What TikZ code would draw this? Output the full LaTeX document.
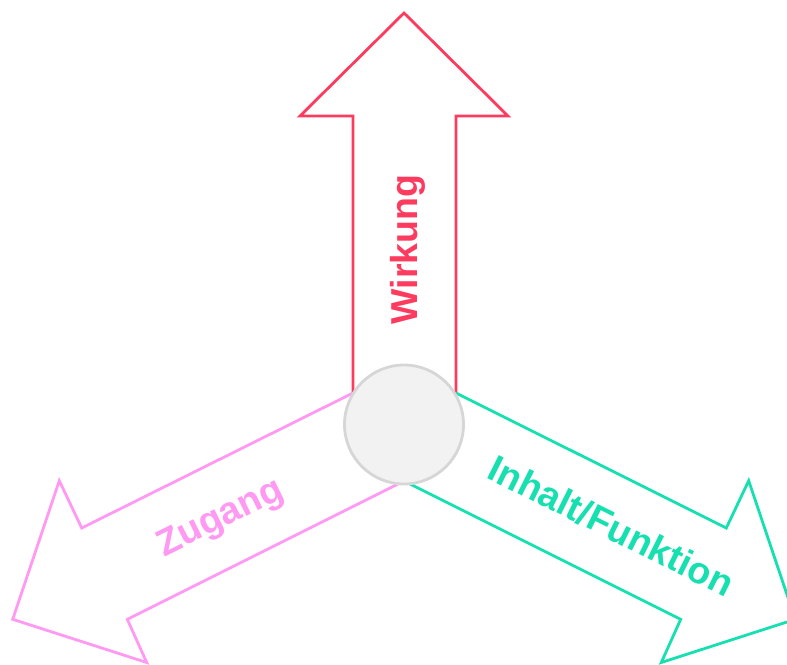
\documentclass[tikz,border=0pt]{standalone}
\usepackage{fontspec}
\setmainfont{Liberation Sans}
\definecolor{wred}{HTML}{FD3B5F}
\definecolor{zpink}{HTML}{FF99F2}
\definecolor{fgreen}{HTML}{17E0B0}
\definecolor{hubfill}{HTML}{F2F2F2}
\definecolor{hubline}{HTML}{D6D6D6}
\begin{document}
\begin{tikzpicture}[x=1pt,y=-1pt,
  arrowline/.style={line width=2.8pt, line join=miter},
  txt/.style={font=\fontsize{37.5}{40}\selectfont\bfseries, inner sep=0pt, anchor=base},
  hubnode/.style={circle, draw=hubline, fill=hubfill, line width=2.8pt, minimum size=119pt, inner sep=0pt}]
\useasboundingbox (0,0) rectangle (787,664);
\clip (0,0) rectangle (787,664);
% Wirkung arrow (up)
\draw[arrowline, wred] (353,393) -- (353,116) -- (300,116) -- (404,13) -- (508,116) -- (456,116) -- (456,393);
% Zugang arrow (lower left)
\draw[arrowline, zpink] (353,393) -- (81.7,528) -- (59.3,480.7) -- (12.7,619.3) -- (146.7,662.5) -- (127.3,619.3) -- (404,481);
% Inhalt/Funktion arrow (lower right)
\draw[arrowline, fgreen] (456,393) -- (726.3,528) -- (748.7,480.7) -- (795.3,619.3) -- (661.3,662.5) -- (680.7,619.3) -- (404,481);
% hub
\node[hubnode] (hub) at (404,424.5) {};
% labels
\node[txt, wred, rotate=90] (wirkung) at (417,249.5) {Wirkung};
\node[txt, zpink, rotate=26.5] (zugang) at (225,527) {Zugang};
\node[txt, fgreen, rotate=-26.5] (inhalt) at (605.5,537.5) {Inhalt/Funktion};
\end{tikzpicture}
\end{document}
